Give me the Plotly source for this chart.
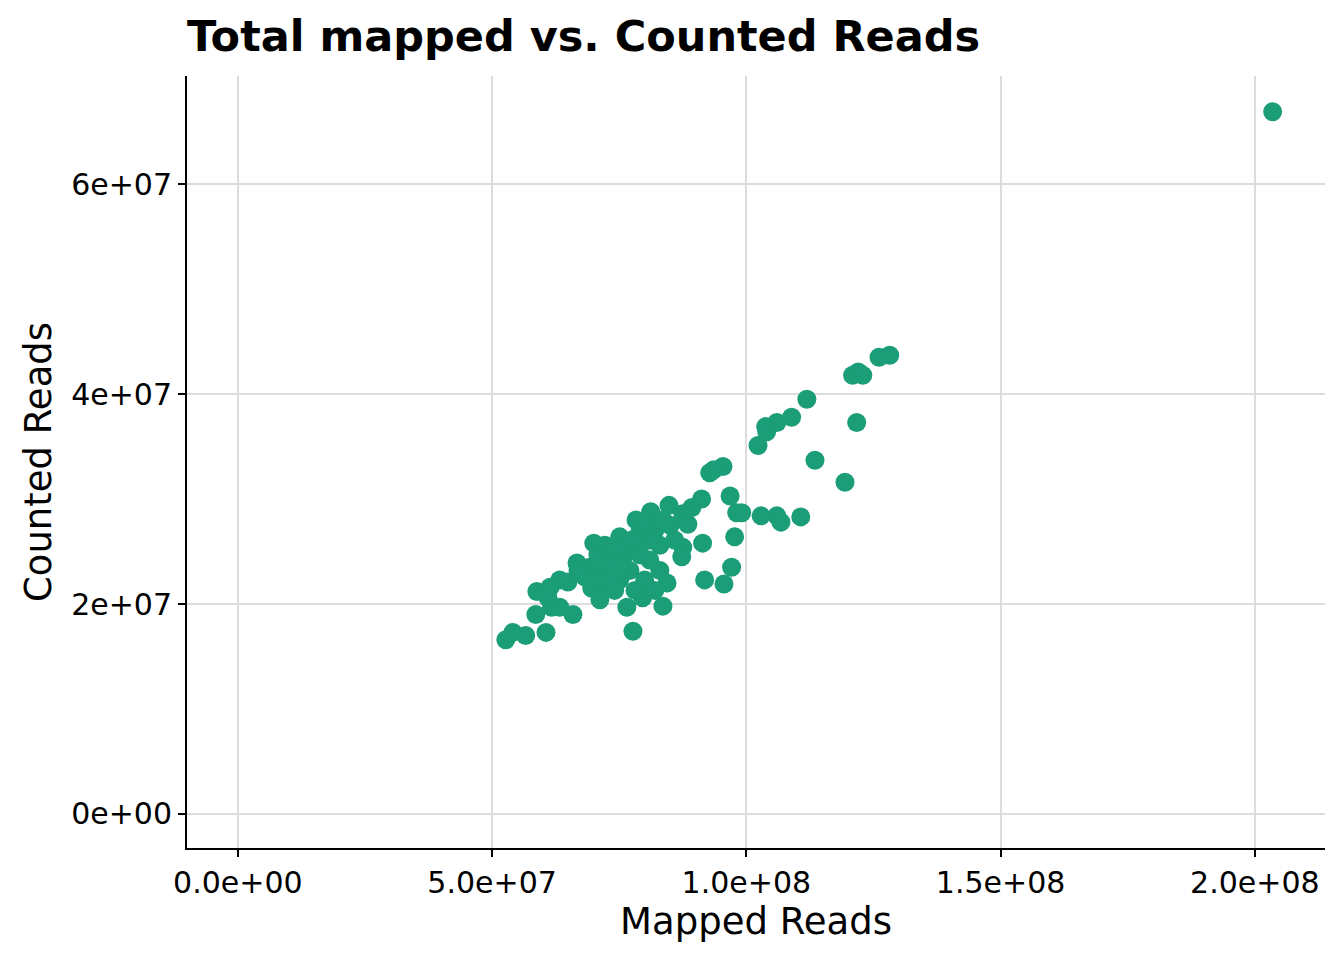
import plotly.graph_objects as go

# Values in millions of reads
mapped_m = [203.5, 128.2, 126.1, 122.9, 120.9, 122.0, 111.9, 121.7, 108.9, 106.0,
            103.8, 104.0, 102.3, 113.5, 119.4, 95.4, 92.8, 93.6, 96.8, 98.1,
            99.1, 102.9, 106.0, 106.8, 110.7, 97.7, 91.2, 89.3, 91.4, 87.5,
            87.3, 97.1, 95.6, 91.8, 84.4, 83.6, 79.6, 76.5, 77.7, 52.7,
            54.1, 56.6, 60.6, 58.6, 58.8, 61.4, 63.3, 64.9, 65.9, 63.3,
            61.7, 61.0, 66.7, 70.0, 72.2, 69.2, 71.2, 75.1, 78.3, 81.2,
            84.8, 87.5, 85.0, 82.0, 79.1, 76.1, 73.2, 77.1, 81.0, 83.0,
            80.0, 75.1, 72.2, 69.6, 74.1, 78.1, 82.0, 79.1, 75.1, 83.0,
            85.9, 88.5, 83.6, 81.0, 79.1, 73.5, 70.8, 68.2, 66.9, 70.8,
            74.1, 77.5, 80.3, 71.2]
counted_m = [66.9, 43.7, 43.5, 41.8, 41.8, 42.1, 39.5, 37.3, 37.8, 37.3,
             36.9, 36.4, 35.1, 33.7, 31.6, 33.1, 32.5, 32.8, 30.3, 28.7,
             28.7, 28.4, 28.4, 27.8, 28.3, 26.4, 30.0, 29.2, 25.8, 25.4,
             24.5, 23.5, 21.9, 22.3, 22.0, 19.8, 20.6, 19.7, 17.4, 16.6,
             17.3, 17.0, 17.3, 19.0, 21.2, 21.6, 22.3, 22.1, 19.0, 19.7,
             19.7, 20.6, 23.9, 25.8, 25.6, 23.5, 23.0, 26.4, 28.0, 28.8,
             29.4, 28.6, 27.5, 27.0, 25.6, 24.7, 24.2, 23.2, 24.2, 23.2,
             22.3, 22.3, 21.8, 21.5, 21.3, 21.3, 21.3, 27.0, 25.3, 25.6,
             26.1, 27.6, 28.0, 26.1, 24.7, 22.3, 22.3, 22.6, 23.2, 24.7,
             23.7, 26.1, 28.0, 20.4]

x_ticks = [0, 5e7, 1e8, 1.5e8, 2e8]
x_tick_labels = ["0.0e+00", "5.0e+07", "1.0e+08", "1.5e+08", "2.0e+08"]
y_ticks = [0, 2e7, 4e7, 6e7]
y_tick_labels = ["0e+00", "2e+07", "4e+07", "6e+07"]

x = [v * 1e6 for v in mapped_m]
y = [v * 1e6 for v in counted_m]

fig = go.Figure()
fig.add_trace(go.Scatter(
    x=x, y=y, mode="markers",
    marker=dict(color="#1B9E77", size=19, line=dict(width=0)),
    showlegend=False,
))

font_family = "DejaVu Sans"
fig.update_layout(
    width=1344, height=960,
    margin=dict(l=187, r=19, t=76, b=112),
    paper_bgcolor="white", plot_bgcolor="white",
    font=dict(family=font_family, color="black"),
    title=dict(text="<b>Total mapped vs. Counted Reads</b>",
               x=187 / 1344, xanchor="left", xref="container",
               y=1 - 36 / 960, yanchor="middle", yref="container",
               font=dict(size=43, color="black", family=font_family)),
)
fig.update_xaxes(
    range=[-10.0e6, 213.8e6],
    tickvals=x_ticks, ticktext=x_tick_labels,
    showgrid=True, gridcolor="#DCDCDC", gridwidth=1.6,
    zeroline=False,
    showline=True, linecolor="black", linewidth=2,
    ticks="outside", ticklen=7, tickwidth=2, tickcolor="black",
    tickfont=dict(size=30, color="black"),
    title=dict(text="Mapped Reads", font=dict(size=37, color="black"), standoff=6),
)
fig.update_yaxes(
    range=[-3.24e6, 70.3e6],
    tickvals=y_ticks, ticktext=y_tick_labels,
    showgrid=True, gridcolor="#DCDCDC", gridwidth=1.6,
    zeroline=False,
    showline=True, linecolor="black", linewidth=2,
    ticks="outside", ticklen=7, tickwidth=2, tickcolor="black",
    tickfont=dict(size=30, color="black"),
    title=dict(text="Counted Reads", font=dict(size=37, color="black"), standoff=8),
)

fig.write_html("out.html", config={"displayModeBar": False},
               post_script="document.body.style.margin='0';")
